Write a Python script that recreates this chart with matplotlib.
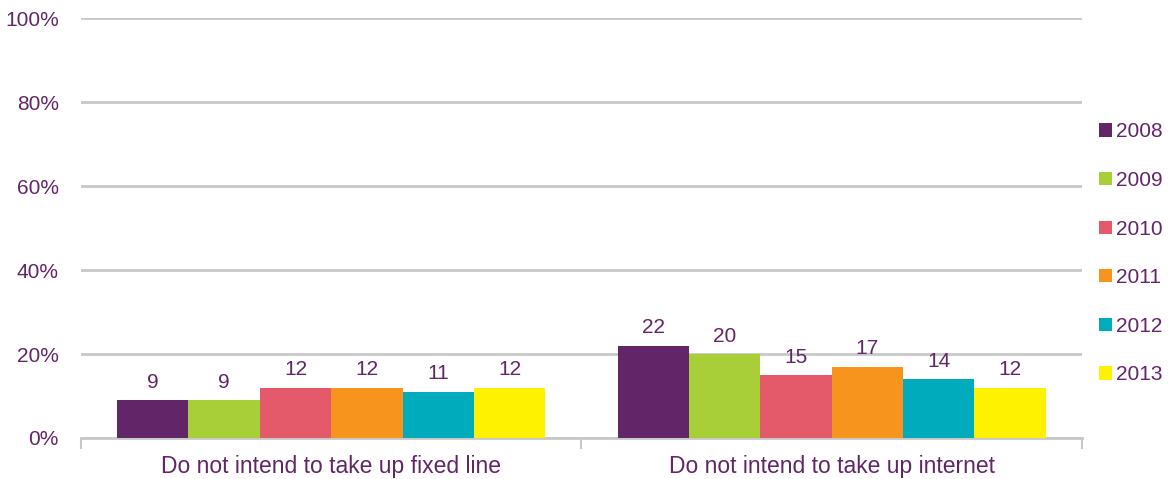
import numpy as np
import matplotlib.pyplot as plt

plt.rcParams['font.family'] = ['Liberation Sans', 'DejaVu Sans']

categories = ['Do not intend to take up fixed line', 'Do not intend to take up internet']
years = ['2008', '2009', '2010', '2011', '2012', '2013']
values_2008 = [9, 22]
values_2009 = [9, 20]
values_2010 = [12, 15]
values_2011 = [12, 17]
values_2012 = [11, 14]
values_2013 = [12, 12]
series = [values_2008, values_2009, values_2010, values_2011, values_2012, values_2013]
colors = ['#622567', '#A9CF38', '#E55A6B', '#F7941D', '#00ABBC', '#FFF200']
text_color = '#622567'
grid_color = '#C8C8C8'

fig = plt.figure(figsize=(11.68, 4.79), dpi=100)
ax = fig.add_axes([0.0693, 0.0856, 0.857, 0.8768])

x = np.arange(len(categories))
width = 0.1426
n = len(series)
for i, (vals, c, yr) in enumerate(zip(series, colors, years)):
    pos = x + (i - (n - 1) / 2) * width
    bars = ax.bar(pos, vals, width, color=c, label=yr, zorder=3)
    for b, v in zip(bars, vals):
        ax.text(b.get_x() + b.get_width() / 2, v + 2, str(v), ha='center', va='bottom',
                fontsize=15, color=text_color)

ax.set_xlim(-0.5, 1.5)
ax.set_ylim(0, 100)
ax.set_yticks(range(0, 101, 20))
ax.set_yticklabels([f'{t}%' for t in range(0, 101, 20)], fontsize=15, color=text_color)
ax.yaxis.grid(True, color=grid_color, linewidth=2)
ax.set_axisbelow(True)
ax.tick_params(axis='y', length=0, pad=16)

ax.set_xticks(x)
ax.set_xticklabels(categories, fontsize=16.5, color=text_color)
ax.set_xticks([-0.5, 0.5, 1.5], minor=True)
ax.tick_params(axis='x', which='major', length=0, pad=12)
ax.tick_params(axis='x', which='minor', length=8, width=1.5, color=grid_color)

for s in ['top', 'right', 'left']:
    ax.spines[s].set_visible(False)
ax.spines['bottom'].set_color(grid_color)
ax.spines['bottom'].set_linewidth(2)

leg = fig.legend(loc='upper left', bbox_to_anchor=(0.934, 0.762), frameon=False,
                 fontsize=15, labelspacing=1.42, handlelength=0.6, handleheight=0.6,
                 handletextpad=0.2, borderaxespad=0)
for t in leg.get_texts():
    t.set_color(text_color)

fig.savefig('out.png', dpi=100)
